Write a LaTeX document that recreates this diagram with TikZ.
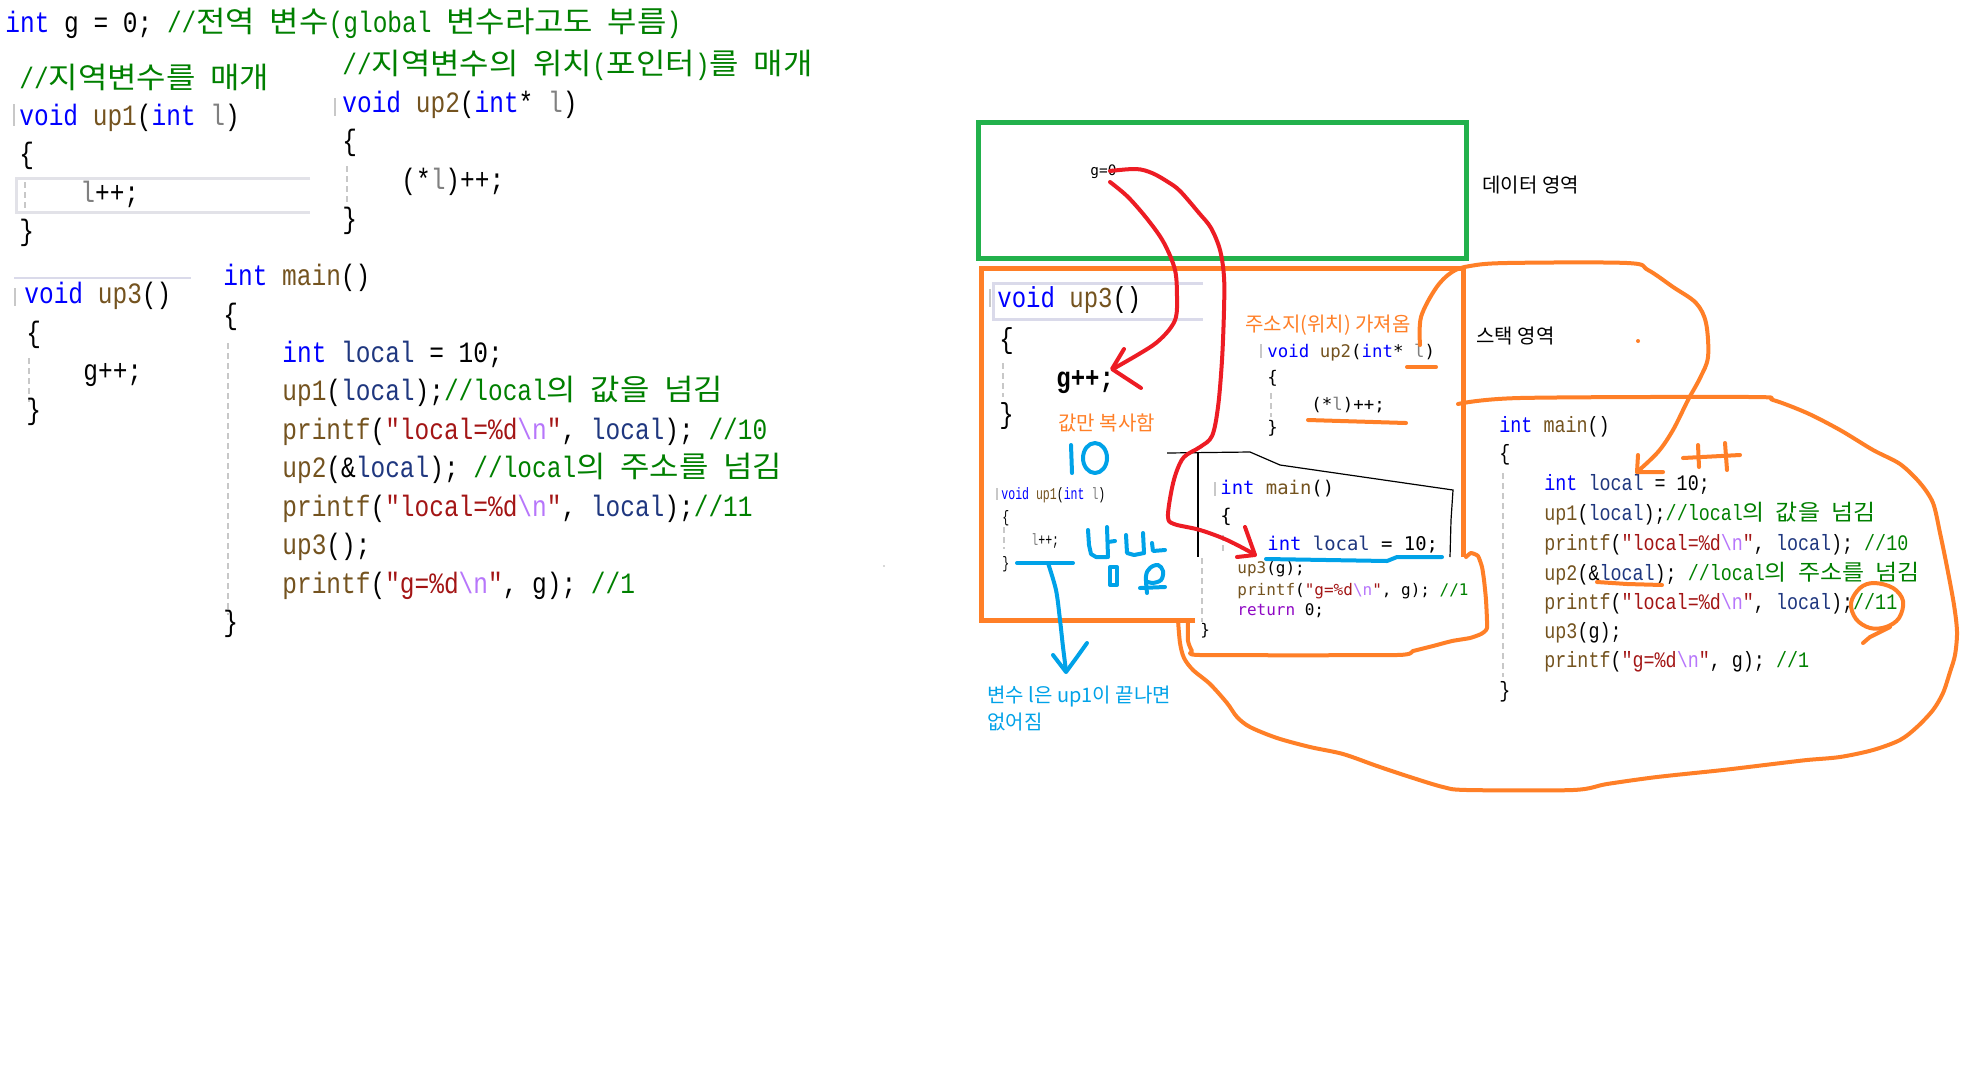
\documentclass[tikz,border=0pt]{standalone}
\usepackage{fontspec}
\setmainfont{Noto Sans CJK KR}
\newfontfamily\fcode[FakeStretch=0.83]{Liberation Mono}
\newfontfamily\fcodeN[FakeStretch=0.7]{Liberation Mono}
\newfontfamily\fdm{DejaVu Sans Mono}
\newfontfamily\fkr{Noto Sans CJK KR}
\newfontfamily\fkrw[FakeStretch=1.083]{Noto Sans CJK KR}
\newcommand\K[1]{{\fkrw #1}}
\definecolor{ckwc}{HTML}{0000FF}
\definecolor{cfunc}{HTML}{74531F}
\definecolor{clocc}{HTML}{1F377F}
\definecolor{cparc}{HTML}{808080}
\definecolor{ccomc}{HTML}{008000}
\definecolor{cstrc}{HTML}{A31515}
\definecolor{cescc}{HTML}{B776FB}
\definecolor{cretc}{HTML}{8F08C4}
\definecolor{pred}{HTML}{ED1C24}
\definecolor{porange}{HTML}{FF7F27}
\definecolor{pblue}{HTML}{00A2E8}
\definecolor{pgreen}{HTML}{22B14C}
\definecolor{guide}{HTML}{C8C8C8}
\definecolor{hlc}{HTML}{E2E2E8}
\definecolor{hlv}{HTML}{DADAEA}
\newcommand\ckw[1]{\textcolor{ckwc}{#1}}
\newcommand\cfun[1]{\textcolor{cfunc}{#1}}
\newcommand\cloc[1]{\textcolor{clocc}{#1}}
\newcommand\cpar[1]{\textcolor{cparc}{#1}}
\newcommand\ccom[1]{\textcolor{ccomc}{#1}}
\newcommand\cstr[1]{\textcolor{cstrc}{#1}}
\newcommand\cesc{\textcolor{cescc}{\textbackslash n}}
\newcommand\cret[1]{\textcolor{cretc}{#1}}
\tikzset{
  lc/.style={anchor=base west, inner sep=0pt, font=\fcode\fontsize{14.75}{16}\selectfont},
  rc/.style={anchor=base west, inner sep=0pt, font=\fcode\fontsize{11.07}{13}\selectfont},
  sc/.style={anchor=base west, inner sep=0pt, font=\fcode\fontsize{14.45}{16}\selectfont},
  uc/.style={anchor=base west, inner sep=0pt, font=\fcodeN\fontsize{8.25}{10}\selectfont},
  mc/.style={anchor=base west, inner sep=0pt, font=\fdm\fontsize{8.7}{10}\selectfont},
  mm/.style={anchor=base west, inner sep=0pt, font=\fdm\fontsize{9.45}{11}\selectfont},
  ml/.style={anchor=base west, inner sep=0pt, font=\fdm\fontsize{8}{10}\selectfont},
  ann/.style={anchor=base west, inner sep=0pt, font=\fkr\fontsize{10}{12}\selectfont},
  guideline/.style={guide, line width=0.75pt, dash pattern=on 3pt off 2pt},
  hand/.style={line width=2pt, line cap=round, line join=round},
  orangepen/.style={hand, porange},
  redpen/.style={hand, pred},
  bluepen/.style={hand, pblue},
}
\begin{document}
\begin{tikzpicture}[x=0.5pt, y=-0.5pt]
\useasboundingbox[fill=white] (0,0) rectangle (1964,1072);

% ---------- left code ----------
\draw[hlc, line width=1.5pt] (310,178) -- (16,178) -- (16,212) -- (310,212);
\draw[hlv, line width=0.75pt] (14,278) -- (191,278);
\draw[guide, line width=0.75pt] (14,104) -- (14,126);
\draw[guide, line width=0.75pt] (335,98) -- (335,116);
\draw[guide, line width=0.75pt] (15,288) -- (15,306);
\draw[guideline] (25,182) -- (25,210);
\draw[guideline] (347,166) -- (347,205);
\draw[guideline] (29,358) -- (29,402);
\draw[guideline] (228,343) -- (228,615);

\node[lc] (l0) at (5,32) {\ckw{int} g = 0; \ccom{//\K{전역} \K{변수}(global \K{변수라고도} \K{부름})}};
\node[lc] (l1) at (19,88) {\ccom{//\K{지역변수를} \K{매개}}};
\node[lc] (l2) at (19,125) {\ckw{void} \cfun{up1}(\ckw{int} \cpar{l})};
\node[lc] (l3) at (19,163) {\{};
\node[lc] (l4) at (80,202) {\cpar{l}++;};
\node[lc] (l5) at (19,240) {\}};

\node[lc] (m0) at (342,74) {\ccom{//\K{지역변수의} \K{위치}(\K{포인터})\K{를} \K{매개}}};
\node[lc] (m1) at (342,112) {\ckw{void} \cfun{up2}(\ckw{int}* \cpar{l})};
\node[lc] (m2) at (342,150) {\{};
\node[lc] (m3) at (401,189) {(*\cpar{l})++;};
\node[lc] (m4) at (342,228) {\}};

\node[lc] (u0) at (24,303) {\ckw{void} \cfun{up3}()};
\node[lc] (u1) at (26,342) {\{};
\node[lc] (u2) at (83,380) {g++;};
\node[lc] (u3) at (26,419) {\}};

\node[lc] (a0) at (223,285) {\ckw{int} \cfun{main}()};
\node[lc] (a1) at (223,324) {\{};
\node[lc] (a2) at (282,362) {\ckw{int} \cloc{local} = 10;};
\node[lc] (a3) at (282,400.5) {\cfun{up1}(\cloc{local});\ccom{//local\K{의} \K{값을} \K{넘김}}};
\node[lc] (a4) at (282,439) {\cfun{printf}(\cstr{"local=\%d}\cesc\cstr{"}, \cloc{local}); \ccom{//10}};
\node[lc] (a5) at (282,477.5) {\cfun{up2}(\&\cloc{local}); \ccom{//local\K{의} \K{주소를} \K{넘김}}};
\node[lc] (a6) at (282,516) {\cfun{printf}(\cstr{"local=\%d}\cesc\cstr{"}, \cloc{local});\ccom{//11}};
\node[lc] (a7) at (282,554.5) {\cfun{up3}();};
\node[lc] (a8) at (282,593) {\cfun{printf}(\cstr{"g=\%d}\cesc\cstr{"}, g); \ccom{//1}};
\node[lc] (a9) at (223,631.5) {\}};

\fill[gray!60] (884,566) circle (0.8);

% ---------- memory boxes ----------
\draw[pgreen, line width=2.5pt] (978,122) rectangle (1466,258);
\draw[porange, line width=2.5pt] (1195,620) -- (981,620) -- (981,268) -- (1463,268) -- (1463,557);

\node[mm, font=\fdm\fontsize{7.2}{9}\selectfont] (g0) at (1090,175) {g=0};
\node[ann] (dat) at (1482,192) {데이터 영역};
\node[ann] (stk) at (1476,343) {스택 영역};

% stack: up3
\draw[hlv, line width=1.5pt] (1203,283) -- (993,283) -- (993,319) -- (1203,319);
\draw[guide, line width=0.75pt] (990,289) -- (990,307);
\draw[guideline] (1003,363) -- (1003,397);
\node[sc] (s0) at (997,307) {\ckw{void} \cfun{up3}()};
\node[sc] (s1) at (999,348) {\{};
\node[sc] (s2) at (1056,387) {\bfseries g++;};
\node[sc] (s3) at (999,423) {\}};

% stack: up1
\node[ann, text=porange] (cp) at (1058,430) {값만 복사함};
\draw[guide, line width=0.75pt] (997,488) -- (997,500);
\draw[guideline] (1004,527) -- (1004,549);
\node[uc] (p0) at (1001,499) {\ckw{void} \cfun{up1}(\ckw{int} \cpar{l})};
\node[uc] (p1) at (1002,522) {\{};
\node[uc] (p2) at (1031,545) {\cpar{l}++;};
\node[uc] (p3) at (1002,568) {\}};

% stack: up2
\node[ann, text=porange] (ad) at (1245,331) {주소지(위치) 가져옴};
\draw[guide, line width=0.75pt] (1261,344) -- (1261,358);
\draw[guideline] (1271,393) -- (1271,417);
\node[mc] (q0) at (1267,357) {\ckw{void} \cfun{up2}(\ckw{int}* \cpar{l})};
\node[mc] (q1) at (1267,383) {\{};
\node[mc] (q2) at (1311,410) {(*\cpar{l})++;};
\node[mc] (q3) at (1267,433) {\}};

% stack: main
\draw[black, line width=0.6pt] (1167,453) -- (1250,452) -- (1280,465) -- (1453,490) -- (1451,520) -- (1450,557);
\draw[black, line width=0.6pt] (1198,453) -- (1198,557);
\draw[guide, line width=0.75pt] (1215,482) -- (1215,496);
\draw[guideline] (1223,535) -- (1223,553);
\draw[guideline] (1202,558) -- (1202,622);
\node[mm] (r0) at (1220,494) {\ckw{int} \cfun{main}()};
\node[mm] (r1) at (1220,522) {\{};
\node[mm] (r2) at (1267,550) {\ckw{int} \cloc{local} = 10;};
\node[ml] (r3) at (1237,573) {\cfun{up3}(g);};
\node[ml] (r4) at (1237,595) {\cfun{printf}(\cstr{"g=\%d}\cesc\cstr{"}, g); \ccom{//1}};
\node[ml] (r5) at (1237,615) {\cret{return} 0;};
\node[ml] (r6) at (1200,635) {\}};

% ---------- right main ----------
\draw[guideline] (1503,473) -- (1503,677);
\node[rc] (w0) at (1499,432) {\ckw{int} \cfun{main}()};
\node[rc] (w1) at (1499,460) {\{};
\node[rc] (w2) at (1544,490) {\ckw{int} \cloc{local} = 10;};
\node[rc] (w3) at (1544,520) {\cfun{up1}(\cloc{local});\ccom{//local\K{의} \K{값을} \K{넘김}}};
\node[rc] (w4) at (1544,550) {\cfun{printf}(\cstr{"local=\%d}\cesc\cstr{"}, \cloc{local}); \ccom{//10}};
\node[rc] (w5) at (1544,580) {\cfun{up2}(\&\cloc{local}); \ccom{//local\K{의} \K{주소를} \K{넘김}}};
\node[rc] (w6) at (1544,609) {\cfun{printf}(\cstr{"local=\%d}\cesc\cstr{"}, \cloc{local});\ccom{//11}};
\node[rc] (w7) at (1544,638) {\cfun{up3}(g);};
\node[rc] (w8) at (1544,667) {\cfun{printf}(\cstr{"g=\%d}\cesc\cstr{"}, g); \ccom{//1}};
\node[rc] (w9) at (1499,697) {\}};

% ---------- blue annotations ----------
\node[ann, text=pblue] (bt1) at (987,702) {변수 l은 up1이 끝나면};
\node[ann, text=pblue] (bt2) at (987,729) {없어짐};
\draw[bluepen] (1071,445) -- (1072,473);
\draw[bluepen] (1095,458) ellipse (12 and 15);
\draw[bluepen] (1017,563) -- (1073,563);
\draw[bluepen] plot[smooth, tension=0.5] coordinates {(1048,563) (1056,590) (1060,620) (1063,647) (1066,671)};
\draw[bluepen] (1053,655) -- (1066,672) -- (1077,657) -- (1087,643);
% scribble
\draw[bluepen] (1088,530) -- (1089,545) -- (1091,554) -- (1096,557) -- (1107,557);
\draw[bluepen] (1107,527) -- (1108,557);
\draw[bluepen] (1108,542) -- (1115,541);
\draw[bluepen] (1126,535) -- (1127,553) -- (1134,555) -- (1144,553);
\draw[bluepen] (1143,533) -- (1144,553);
\draw[bluepen] (1152,543) -- (1153,551) -- (1165,550);
\draw[bluepen] (1110,567) rectangle (1117,585);
\draw[bluepen] plot[smooth, tension=0.6] coordinates {(1147,593) (1146,576) (1150,568) (1158,565) (1163,571) (1161,580) (1152,583) (1146,581)};
\draw[bluepen] (1140,588) -- (1165,587);
\draw[bluepen] (1266,559) -- (1387,561) -- (1397,557) -- (1442,557);

% ---------- red arrows ----------
\draw[redpen] plot[smooth, tension=0.55] coordinates {(1110,182) (1128,197) (1148,220) (1164,243) (1175,270) (1177,297) (1176,317) (1169,330) (1156,343) (1139,354) (1113,369)};
\draw[redpen] (1124,349) -- (1112,369) -- (1141,388);
\draw[redpen] plot[smooth, tension=0.55] coordinates {(1110,171) (1136,169) (1152,173) (1168,182) (1180,191) (1199,213) (1211,228) (1220,250) (1224,277) (1224,310) (1222,360) (1218,407) (1212,436) (1200,447) (1184,457) (1176,473) (1171,493) (1168,517) (1174,524) (1200,530) (1227,540) (1254,554)};
\draw[redpen] (1245,527) -- (1255,555) -- (1237,557);

% ---------- orange annotations ----------
\draw[orangepen] (1407,367) -- (1436,367);
\draw[orangepen] (1308,420) -- (1406,423);
\draw[orangepen] plot[smooth, tension=0.55] coordinates {(1420,345) (1421,317) (1436,288) (1452,272) (1470,266) (1507,263) (1627,263) (1648,270) (1673,287) (1696,303) (1706,323) (1708,357) (1700,378) (1688,400) (1673,430) (1658,452) (1637,472)};
\draw[orangepen] (1638,455) -- (1637,472) -- (1663,472);
\fill[porange] (1638,341) circle (2);
\draw[orangepen] (1683,458) -- (1740,455);
\draw[orangepen] (1698,445) -- (1699,467);
\draw[orangepen] (1725,443) -- (1727,470);
\draw[orangepen] (1597,582) -- (1627,584) -- (1662,585);
\draw[orangepen] plot[smooth cycle, tension=0.6] coordinates {(1851,603) (1860,588) (1874,583) (1893,588) (1903,601) (1899,618) (1886,627) (1870,628) (1856,619)};
\draw[orangepen] (1890,627) -- (1870,637) -- (1863,643);
\draw[orangepen] plot[smooth, tension=0.5] coordinates {(1458,404) (1520,398) (1750,397) (1773,400) (1807,413) (1840,430) (1873,450) (1900,464) (1920,483) (1933,503) (1940,533) (1947,567) (1954,605) (1957,632) (1955,655) (1950,672) (1943,693) (1933,710) (1917,727) (1900,740) (1873,750) (1840,757) (1807,760) (1773,764) (1723,770) (1657,777) (1607,784) (1573,790) (1467,790) (1443,787) (1410,777) (1377,766) (1343,754) (1310,747) (1277,738) (1250,727) (1237,717) (1227,703) (1210,684) (1193,670) (1184,658) (1180,643) (1178,620)};
\draw[orangepen] plot[smooth, tension=0.3] coordinates {(1466,557) (1471,553) (1478,556) (1482,567) (1484,580) (1486,600) (1487,628) (1481,634) (1470,638) (1452,641) (1433,646) (1413,651) (1397,655) (1200,655) (1192,651) (1188,641) (1188,620)};
\end{tikzpicture}
\end{document}
